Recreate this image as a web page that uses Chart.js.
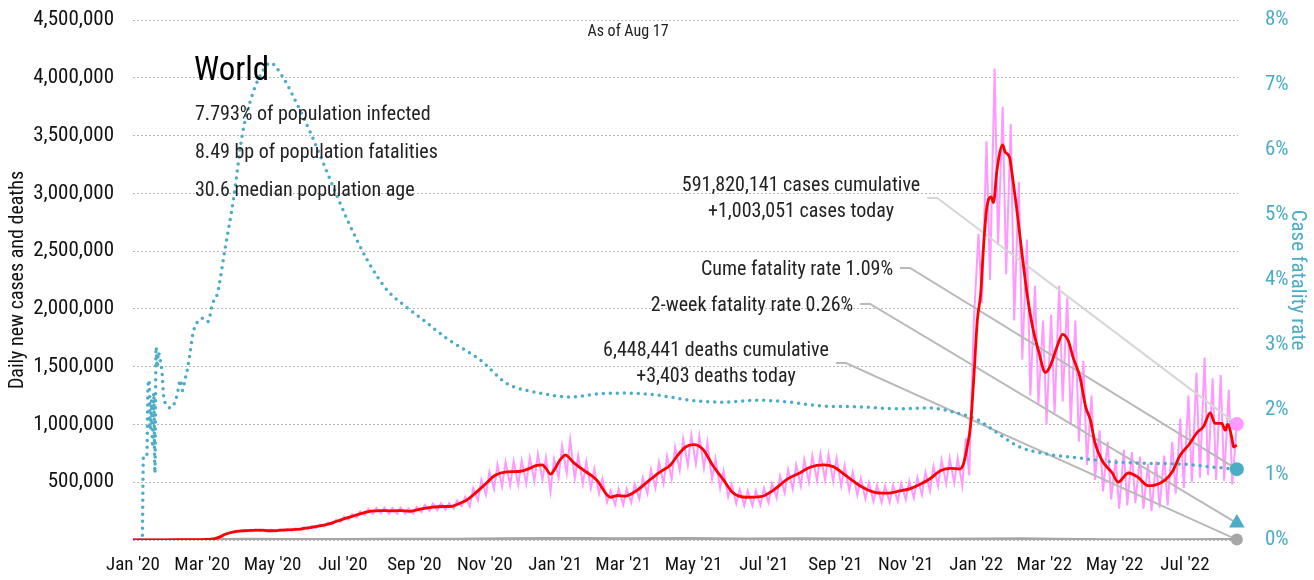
<!DOCTYPE html>
<html>
<head>
<meta charset="utf-8">
<script src="https://cdn.jsdelivr.net/npm/chart.js@4/dist/chart.umd.min.js"></script>
<style>
  html, body { margin: 0; padding: 0; background: #fff; }
  #wrap { width: 1314px; height: 580px; position: relative; }
</style>
</head>
<body>
<div id="wrap"><canvas id="covidChart"></canvas></div>
<script>
// x = days since Jan 1 2020, case values in thousands, fatality rate in %
const xTickDays = [0, 60, 121, 182, 244, 305, 366, 425, 486, 547, 609, 670, 731, 790, 851, 912];
const xTickLabels = ["Jan '20", "Mar '20", "May '20", "Jul '20", "Sep '20", "Nov '20", "Jan '21", "Mar '21",
  "May '21", "Jul '21", "Sep '21", "Nov '21", "Jan '22", "Mar '22", "May '22", "Jul '22"];

const avgCases = [[0,0],[20,1],[40,2],[60,4],[70,10],[75,25],[80,50],[85,65],[90,75],[96,80],[103,83],[110,85],
  [118,80],[125,82],[135,88],[145,95],[155,110],[162,122],[170,140],[176,160],[182,180],[190,205],[200,235],
  [206,250],[215,255],[225,252],[232,255],[240,248],[250,270],[260,285],[268,290],[275,290],[284,320],[290,350],
  [295,390],[304,470],[314,560],[324,590],[336,595],[344,620],[350,645],[355,650],[358,620],[362,570],[366,620],
  [370,690],[375,735],[382,670],[390,610],[402,520],[414,370],[420,385],[427,380],[437,430],[448,520],[457,590],
  [466,650],[472,730],[479,805],[486,825],[494,785],[503,640],[512,520],[520,410],[532,370],[544,375],[555,430],
  [567,525],[578,580],[587,630],[599,650],[607,635],[619,550],[631,465],[642,415],[654,405],[665,425],[674,445],
  [682,480],[691,530],[700,600],[709,620],[717,615],[720,660],[723,795],[726,980],[729,1410],[732,1900],[735,2140],
  [737,2480],[740,2860],[744,2970],[746,2920],[749,3200],[754,3420],[756,3360],[760,3310],[762,3180],[766,2880],
  [770,2540],[775,2140],[780,1840],[785,1640],[791,1450],[795,1500],[801,1670],[806,1780],[811,1720],[815,1580],
  [821,1410],[826,1150],[830,1040],[834,840],[840,690],[849,580],[854,500],[863,580],[871,545],[880,470],[886,475],
  [895,520],[901,590],[908,735],[915,820],[923,935],[928,980],[934,1100],[938,1010],[944,1010],[947,950],[949,1000],
  [953,865],[954,805],[957,820]];

const dailyCases = [[0,0],[20,1],[40,2],[60,4],[70,12],[75,28],[80,55],[85,68],[90,78],[96,82],[100,85],
  [103,75],[106,92],[110,77],[113,91],[117,72],[120,89],[124,74],[127,92],[131,77],[134,96],[138,81],[141,101],
  [145,86],[148,110],[152,95],[155,121],[159,105],[162,134],[166,117],[169,151],[173,135],[176,176],[180,156],
  [183,201],[187,176],[190,226],[194,195],[197,249],[201,214],[204,270],[208,226],[211,278],[215,230],[218,279],
  [222,228],[225,277],[229,228],[232,281],[236,227],[239,274],[243,227],[246,286],[250,243],[253,303],[257,252],
  [260,314],[264,259],[267,319],[271,261],[274,319],[278,270],[281,341],[285,293],[288,374],
  [292,292],[295,449],[299,344],[302,523],[306,392],[309,592],[313,440],[316,653],[320,464],[323,676],[327,474],
  [330,682],[334,476],[337,688],[341,488],[344,713],[348,510],[351,743],[355,520],[358,713],[362,420],[365,700],
  [369,540],[372,816],[376,580],[379,870],[383,532],[386,730],[390,488],[393,679],[397,448],[400,615],[404,400],
  [407,529],[411,328],[414,425],[418,304],[421,443],[425,304],[428,443],[432,324],[435,483],[439,356],[442,540],
  [446,404],[449,610],[453,448],[456,673],[460,488],[463,725],[467,528],[470,805],[474,604],[477,875],[481,648],
  [484,910],[488,658],[491,900],[495,624],[498,845],[502,524],[505,702],[509,448],[512,598],[516,372],[519,483],
  [523,316],[526,437],[530,298],[533,426],[537,297],[540,428],[544,300],[547,449],[551,324],[554,489],[558,364],
  [561,552],[565,408],[568,610],[572,440],[575,650],[579,468],[582,696],[586,500],[589,730],[593,514],[596,745],
  [600,520],[603,742],[607,508],[610,707],[614,468],[617,644],[621,428],[624,587],[628,388],[631,535],[635,356],
  [638,495],[642,332],[645,472],[649,326],[652,466],[656,326],[659,474],[663,336],[666,491],[670,348],[673,509],
  [677,364],[680,541],[684,392],[687,587],[691,424],[694,638],[698,468],[701,693],[705,488],[708,707],[712,496],
  [715,707],[719,470],[722,880],[725,560],[729,1900],[733,2650],[736,2050],[740,3450],[743,2250],[747,4080],
  [750,2550],[754,3750],[757,2300],[761,3600],[764,1900],[768,3100],[771,1560],[775,2600],[778,1250],[782,2200],
  [785,1180],[789,1900],[792,1000],[796,1950],[799,1100],[803,2200],[806,1200],[810,2100],[813,1000],[817,1900],
  [820,850],[824,1550],[827,650],[831,1250],[834,520],[838,950],[841,420],[845,850],[848,350],[852,700],[855,270],
  [859,780],[862,300],[866,760],[869,320],[873,720],[876,270],[880,660],[883,250],[887,680],[890,280],[894,730],
  [897,300],[901,850],[904,400],[908,1050],[911,450],[915,1250],[918,500],[922,1450],[925,540],[929,1580],[932,560],
  [936,1400],[939,520],[943,1430],[946,510],[950,1300],[953,480],[957,1003]];

const dailyDeaths = [[0,0],[60,0.2],[80,4],[100,7],[130,5],[180,5],[220,6],[280,6],[320,10],[360,12],[390,14],
  [420,10],[480,13],[530,8],[580,10],[620,8],[700,7],[740,9],[770,10],[800,6],[850,3],[900,2],[957,3.4]];

const fatalityRate = [[0,0],[8,0],[9,1.28],[10,1.3],[12,1.3],[13,2.36],[14,2.46],[15,1.7],[16,2.15],[17,1.43],
  [18,2.26],[19,1.03],[20,2.97],[21,2.66],[22,2.89],[23,2.82],[25,2.61],[27,2.15],[29,2.1],[32,2.03],[34,2.05],
  [37,2.15],[39,2.3],[41,2.46],[43,2.3],[45,2.46],[47,2.61],[49,2.82],[52,3.18],[55,3.33],[58,3.4],[61,3.41],
  [65,3.36],[69,3.64],[73,3.78],[80,4.5],[87,5.23],[95,6.26],[104,6.88],[113,7.23],[119,7.34],[130,7.12],
  [139,6.82],[154,6.26],[171,5.54],[186,4.92],[203,4.31],[220,3.85],[238,3.57],[252,3.38],[272,3.1],[301,2.77],
  [324,2.41],[353,2.26],[379,2.2],[405,2.25],[428,2.26],[454,2.23],[483,2.15],[512,2.12],[541,2.15],[570,2.12],
  [598,2.06],[628,2.05],[663,2.02],[691,2.03],[715,1.95],[732,1.85],[749,1.65],[769,1.43],[793,1.32],[821,1.26],
  [850,1.2],[879,1.18],[908,1.17],[937,1.12],[957,1.09]];

const lastDay = 957;
const casesToday = 1003051;
const deathsToday = 3403;
const cumeFatality = 1.09;
const twoWeekFatality = 0.26;

const FONT = '"Roboto Condensed", "Liberation Sans", sans-serif';
const TEAL = '#4bacc6';
const PINK = '#ff99ff';
const GREY = '#a6a6a6';

const toPts = (arr, mult) => arr.map(p => ({ x: p[0], y: p[1] * mult }));

const annotations = [
  { lines: ['591,820,141 cases cumulative', '+1,003,051 cases today'], cx: 801, ys: [186, 212], target: 0, color: '#d6d6d6' },
  { lines: ['Cume fatality rate 1.09%'], cx: 797, ys: [270], target: 1, color: '#b9b9b9' },
  { lines: ['2-week fatality rate 0.26%'], cx: 752, ys: [306], target: 2, color: '#b9b9b9' },
  { lines: ['6,448,441 deaths cumulative', '+3,403 deaths today'], cx: 716, ys: [351, 377], target: 3, color: '#b9b9b9' }
];

const textPlugin = {
  id: 'texts',
  // leader lines go on top of the daily cases, under everything else
  afterDatasetDraw(chart, args) {
    if (args.index !== 7) return;
    const ctx = chart.ctx;
    ctx.save();
    ctx.font = '20px ' + FONT;
    annotations.forEach(a => {
      const w = Math.max(...a.lines.map(l => ctx.measureText(l).width));
      const sx = a.cx + w / 2 + 7;
      const sy = (a.ys[0] + a.ys[a.ys.length - 1]) / 2 + (a.ys.length > 1 ? -1 : -2);
      const pt = chart.getDatasetMeta(a.target).data[0];
      ctx.strokeStyle = a.color;
      ctx.lineWidth = 2;
      ctx.beginPath();
      ctx.moveTo(sx, sy);
      ctx.lineTo(sx + 10, sy);
      ctx.lineTo(pt.x, pt.y);
      ctx.stroke();
    });
    ctx.restore();
  },
  afterDraw(chart) {
    const ctx = chart.ctx;
    ctx.save();
    ctx.fillStyle = '#222';
    ctx.textBaseline = 'middle';
    ctx.textAlign = 'center';
    ctx.font = '16px ' + FONT;
    ctx.fillText('As of Aug 17', 628, 32);

    ctx.textAlign = 'left';
    ctx.fillStyle = '#000';
    ctx.font = '33px ' + FONT;
    ctx.fillText('World', 194, 72);
    ctx.fillStyle = '#222';
    ctx.font = '20px ' + FONT;
    ctx.fillText('7.793% of population infected', 195, 115);
    ctx.fillText('8.49 bp of population fatalities', 195, 153);
    ctx.fillText('30.6 median population age', 195, 191);

    ctx.textAlign = 'center';
    annotations.forEach(a => {
      a.lines.forEach((l, i) => ctx.fillText(l, a.cx, a.ys[i]));
    });
    ctx.restore();
  }
};

const ctx = document.getElementById('covidChart').getContext('2d');

new Chart(ctx, {
  type: 'line',
  data: {
    datasets: [
      { // 0 cases today marker
        data: [{ x: lastDay, y: casesToday }], yAxisID: 'y', showLine: false,
        pointRadius: 7, pointBackgroundColor: PINK, pointBorderWidth: 0, order: 0, clip: false
      },
      { // 1 cume fatality marker
        data: [{ x: lastDay, y: cumeFatality }], yAxisID: 'y1', showLine: false,
        pointRadius: 7, pointBackgroundColor: TEAL, pointBorderWidth: 0, order: 0, clip: false
      },
      { // 2 two-week fatality marker
        data: [{ x: lastDay, y: twoWeekFatality }], yAxisID: 'y1', showLine: false, pointStyle: 'triangle',
        pointRadius: 9, pointBackgroundColor: TEAL, pointBorderWidth: 0, order: 0, clip: false
      },
      { // 3 deaths today marker
        data: [{ x: lastDay, y: deathsToday }], yAxisID: 'y', showLine: false,
        pointRadius: 6, pointBackgroundColor: GREY, pointBorderWidth: 0, order: 0, clip: false
      },
      {
        label: '7-day average cases',
        data: toPts(avgCases, 1000), yAxisID: 'y',
        borderColor: '#ff0000', borderWidth: 2.8, pointRadius: 0,
        cubicInterpolationMode: 'monotone', order: 1
      },
      {
        label: 'Case fatality rate',
        data: toPts(fatalityRate, 1), yAxisID: 'y1',
        borderColor: TEAL, borderWidth: 3.5, borderDash: [0, 7], borderCapStyle: 'round',
        pointRadius: 0, cubicInterpolationMode: 'monotone', order: 2
      },
      {
        label: 'Daily deaths',
        data: toPts(dailyDeaths, 1000), yAxisID: 'y',
        borderColor: GREY, borderWidth: 3, pointRadius: 0, order: 3
      },
      {
        label: 'Daily cases',
        data: toPts(dailyCases, 1000), yAxisID: 'y',
        borderColor: PINK, borderWidth: 2, pointRadius: 0, order: 4
      }
    ]
  },
  options: {
    responsive: true,
    maintainAspectRatio: false,
    animation: false,
    layout: { padding: { top: 20, left: 0, right: 0, bottom: 0 } },
    plugins: {
      legend: { display: false },
      tooltip: { enabled: false }
    },
    scales: {
      x: {
        type: 'linear',
        min: 0,
        max: 958,
        grid: { display: false },
        border: { display: false },
        afterBuildTicks: scale => { scale.ticks = xTickDays.map(v => ({ value: v })); },
        afterFit: scale => { scale.height = 40; scale.paddingLeft = 0; scale.paddingRight = 0; },
        ticks: {
          autoSkip: false,
          maxRotation: 0,
          padding: 6,
          color: '#111',
          font: { family: FONT, size: 19 },
          callback: v => xTickLabels[xTickDays.indexOf(v)]
        }
      },
      y: {
        position: 'left',
        min: 0,
        max: 4500000,
        afterFit: scale => { scale.width = 133; scale.paddingTop = 0; scale.paddingBottom = 0; },
        grid: { color: '#b8b8b8', lineWidth: 1, drawTicks: false },
        border: { display: false, dash: [2, 2] },
        title: {
          display: true,
          text: 'Daily new cases and deaths',
          color: '#111',
          padding: { top: 6, bottom: 4 },
          font: { family: FONT, size: 20 }
        },
        ticks: {
          stepSize: 500000,
          padding: 19,
          color: '#111',
          font: { family: FONT, size: 21 },
          callback: v => v === 0 ? '' : v.toLocaleString('en-US')
        }
      },
      y1: {
        position: 'right',
        min: 0,
        max: 8,
        afterFit: scale => { scale.width = 76; scale.paddingTop = 0; scale.paddingBottom = 0; },
        grid: { display: false },
        border: { display: false },
        title: {
          display: true,
          text: 'Case fatality rate',
          color: TEAL,
          font: { family: FONT, size: 21 }
        },
        ticks: {
          stepSize: 1,
          padding: 19,
          color: TEAL,
          font: { family: FONT, size: 21 },
          callback: v => v + '%'
        }
      }
    }
  },
  plugins: [textPlugin]
});
</script>
</body>
</html>
